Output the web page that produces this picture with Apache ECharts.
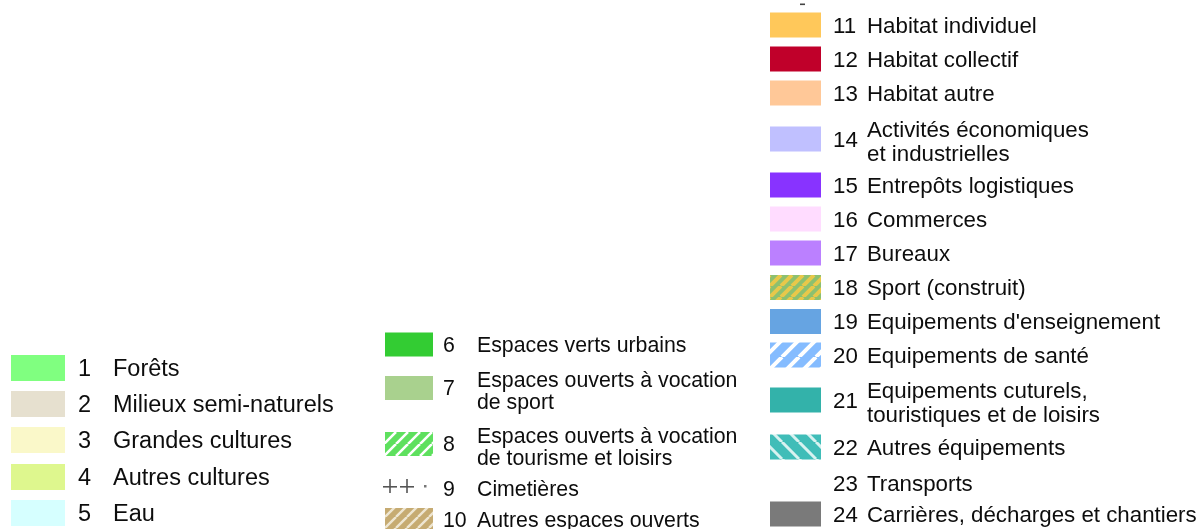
<!DOCTYPE html>
<html>
<head>
<meta charset="utf-8">
<script src="https://cdn.jsdelivr.net/npm/echarts@6/dist/echarts.min.js"></script>
<style>
  html, body { margin: 0; padding: 0; background: #fff; }
  #legend { width: 1203px; height: 529px; }
</style>
</head>
<body>
<div id="legend"></div>
<script>
  // legend entries (code, label, fill kind, colours)
  var codes = [1, 2, 3, 4, 5, 6, 7, 8, 9, 10, 11, 12, 13, 14, 15, 16, 17, 18, 19, 20, 21, 22, 23, 24]
  var labels = [
    'Forêts', 'Milieux semi-naturels', 'Grandes cultures', 'Autres cultures', 'Eau',
    'Espaces verts urbains', 'Espaces ouverts à vocation\nde sport',
    'Espaces ouverts à vocation\nde tourisme et loisirs', 'Cimetières', 'Autres espaces ouverts',
    'Habitat individuel', 'Habitat collectif', 'Habitat autre',
    'Activités économiques\net industrielles', 'Entrepôts logistiques', 'Commerces', 'Bureaux',
    'Sport (construit)', "Equipements d'enseignement", 'Equipements de santé',
    'Equipements cuturels,\ntouristiques et de loisirs', 'Autres équipements', 'Transports',
    'Carrières, décharges et chantiers'
  ]
  var column = [0, 0, 0, 0, 0, 1, 1, 1, 1, 1, 2, 2, 2, 2, 2, 2, 2, 2, 2, 2, 2, 2, 2, 2]
  var fillKind = ['solid', 'solid', 'solid', 'solid', 'solid', 'solid', 'solid', 'hatch', 'cross', 'hatch',
    'solid', 'solid', 'solid', 'solid', 'solid', 'solid', 'solid', 'hatch', 'solid', 'hatch',
    'solid', 'hatchBack', 'none', 'solid']
  var mainColor = ['#80ff80', '#e6e0cf', '#faf8c9', '#def78e', '#d6ffff', '#33cc33', '#a9d18e', '#5ee05e', '#555555', '#c6ab72',
    '#ffc85a', '#c0002a', '#ffc898', '#c0c0ff', '#8833ff', '#ffdcff', '#bb80ff', '#8cc070', '#66a4e2', '#85bcff',
    '#33b2aa', '#40bdb8', '#ffffff', '#7a7a7a']
  var stripeColor = ['', '', '', '', '', '', '', '#ffffff', '', '#eee6d2',
    '', '', '', '', '', '', '', '#e8c84a', '', '#ffffff',
    '', '#d8f2f0', '', '']

  // layout of the three legend columns
  var cols = [
    {swX: 11, swW: 54, swH: 26, numX: 78, txtX: 113, digitW: 13, gap: 10, font: 23.5, lh: 24, rowY: [368, 404, 440, 477, 513]},
    {swX: 385, swW: 48, swH: 24, numX: 443, txtX: 477, digitW: 11.8, gap: 3.5, font: 21.3, lh: 22, rowY: [344.5, 388, 444, 489, 520]},
    {swX: 770, swW: 51, swH: 25, numX: 833, txtX: 867, digitW: 12, gap: 10, font: 22.3, lh: 24,
      rowY: [25, 59, 93, 139, 185, 219, 253, 287.5, 321.5, 355, 400, 447, 483, 514]}
  ]

  function stripes(bg, fg, size, lw, back) {
    var c = document.createElement('canvas')
    c.width = size
    c.height = size
    var g = c.getContext('2d')
    g.fillStyle = bg
    g.fillRect(0, 0, size, size)
    g.strokeStyle = fg
    g.lineWidth = lw
    g.beginPath()
    for (var k = -1; k <= 1; k++) {
      if (back) {
        g.moveTo(k * size, 0)
        g.lineTo(k * size + size, size)
      } else {
        g.moveTo(k * size, size)
        g.lineTo(k * size + size, 0)
      }
    }
    g.stroke()
    return {image: c, repeat: 'repeat'}
  }

  var hatchSize = {8: 12, 10: 11, 18: 11, 20: 17, 22: 17}
  var hatchWidth = {8: 2.6, 10: 2.4, 18: 4, 20: 4, 22: 3}

  var elements = []
  var counter = [0, 0, 0]
  for (var i = 0; i < codes.length; i++) {
    var col = cols[column[i]]
    var y = col.rowY[counter[column[i]]++]
    var kind = fillKind[i]
    if (kind === 'solid' || kind === 'hatch' || kind === 'hatchBack') {
      var fill = kind === 'solid' ? mainColor[i]
        : stripes(mainColor[i], stripeColor[i], hatchSize[codes[i]], hatchWidth[codes[i]], kind === 'hatchBack')
      elements.push({
        type: 'rect',
        shape: {x: col.swX, y: y - col.swH / 2, width: col.swW, height: col.swH},
        style: {fill: fill}
      })
    } else if (kind === 'cross') {
      // two plus signs and a dot
      for (var p = 0; p < 2; p++) {
        var cx = col.swX + 5 + p * 17
        elements.push({type: 'rect', shape: {x: cx - 7, y: y - 3, width: 14, height: 1.6}, style: {fill: mainColor[i]}})
        elements.push({type: 'rect', shape: {x: cx - 0.8, y: y - 10, width: 1.6, height: 14}, style: {fill: mainColor[i]}})
      }
      elements.push({type: 'rect', shape: {x: col.swX + 39, y: y - 4, width: 2.5, height: 2.5}, style: {fill: '#777'}})
    }
    var num = String(codes[i])
    var font = col.font + 'px "Liberation Sans", Arial, sans-serif'
    var multi = labels[i].indexOf('\n') >= 0
    elements.push({
      type: 'text', x: col.numX, y: y + 1.5,
      style: {text: num, font: font, fill: '#0d0d0d', textVerticalAlign: 'middle'}
    })
    var lx = Math.max(col.txtX, col.numX + num.length * col.digitW + col.gap)
    elements.push({
      type: 'text', x: lx, y: y + (multi ? 4 : 1.5),
      style: {text: labels[i], font: font, lineHeight: col.lh, fill: '#0d0d0d', textVerticalAlign: 'middle'}
    })
  }
  // bit of the row above, cut off at the top edge
  elements.push({type: 'rect', shape: {x: 800, y: 3.5, width: 5, height: 1.6}, style: {fill: '#444'}})

  var chart = echarts.init(document.getElementById('legend'))
  chart.setOption({
    animation: false,
    backgroundColor: '#fff',
    graphic: elements
  })
</script>
</body>
</html>
